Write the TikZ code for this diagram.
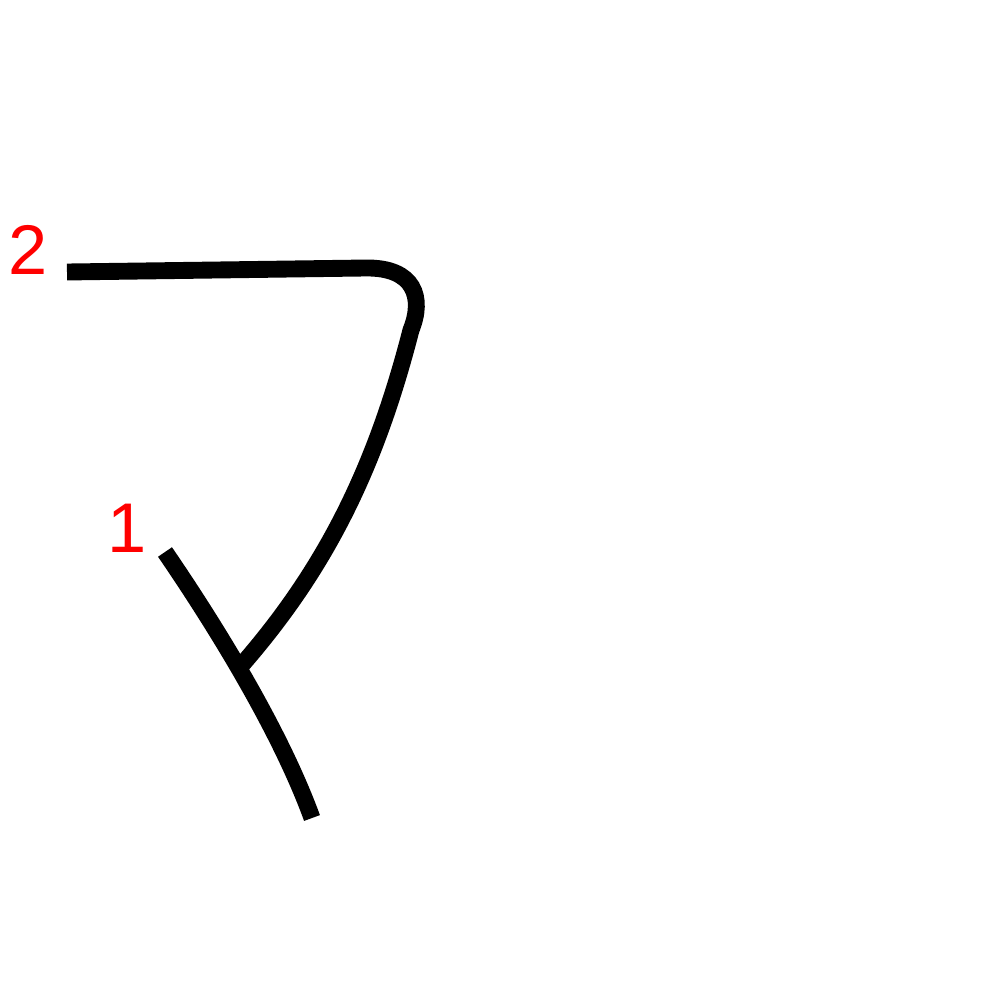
\documentclass[tikz,border=0pt]{standalone}
\usepackage{fontspec}
\setmainfont{Liberation Sans}
\usepackage{tikz}
\tikzset{stroke/.style={line width=4.8pt, black},
  num/.style={red, font=\fontsize{20pt}{20pt}\selectfont, inner sep=0pt}}
\begin{document}
\begin{tikzpicture}[x=0.01cm, y=-0.01cm]
\useasboundingbox (0,0) rectangle (1000,1000);
%1
\draw[stroke] (165,552) .. controls (215,625) and (280,730) .. (312,818);
%2
\draw[stroke] (67,272) -- (365,268) .. controls (415,267) and (424,298) .. (411,330)
  .. controls (375,470) and (325,570) .. (240,667);
\node[num] (n1) at (127,528) {1};
\node[num] (n2) at (28,250) {2};
\end{tikzpicture}
\end{document}
